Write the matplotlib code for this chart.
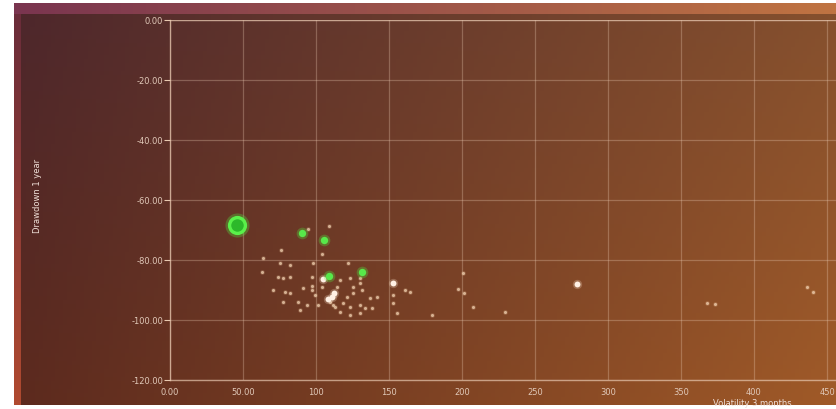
import matplotlib
matplotlib.use('Agg')
import matplotlib.pyplot as plt
import numpy as np

# Data: volatility 3 months (x) vs drawdown 1 year (y)
big_green_x = [46.1]
big_green_y = [-68.3]

green_x = [90.2, 105.5, 109.1, 131.7]
green_y = [-71.1, -73.3, -85.3, -83.9]

white_x = [104.6, 152.9, 278.5, 110.7, 108.5, 112.5]
white_y = [-86.4, -87.8, -88.1, -92.2, -93.0, -91.0]

dot_x = [109.1, 94.7, 75.8, 63.9, 103.9, 75.3, 82.2, 98.1, 122.1, 62.8,
         74.2, 77.6, 82.2, 97.1, 116.4, 123.3, 130.1, 130.1, 97.1, 70.8,
         78.8, 82.2, 91.3, 97.1, 99.3, 103.9, 114.2, 125.5, 125.5, 131.3,
         121.0, 137.0, 141.6, 152.9, 161.0, 164.4, 77.6, 87.9, 93.6, 101.6,
         111.8, 118.7, 123.3, 130.1, 133.6, 138.1, 116.4, 130.1, 123.3, 152.9,
         109.6, 113.0, 89.0, 155.3, 179.2, 200.5, 197.5, 201.6, 207.3, 229.4,
         368.0, 373.3, 440.2, 436.1]
dot_y = [-68.6, -69.7, -76.6, -79.4, -78.1, -81.1, -81.7, -81.1, -81.1, -83.9,
         -85.6, -85.9, -85.6, -85.6, -86.8, -86.1, -86.1, -87.8, -88.6, -90.0,
         -90.6, -91.1, -89.4, -90.0, -91.7, -88.9, -88.9, -88.9, -91.1, -90.0,
         -92.2, -92.8, -92.2, -91.7, -90.0, -90.6, -94.1, -93.9, -95.0, -95.0,
         -95.0, -94.4, -95.6, -95.0, -96.1, -96.1, -97.2, -97.8, -98.3, -94.4,
         -93.9, -95.6, -96.7, -97.8, -98.3, -84.2, -89.8, -90.9, -95.8, -97.2,
         -94.4, -94.7, -90.6, -88.9]

x_ticks = [0, 50, 100, 150, 200, 250, 300, 350, 400, 450]
x_tick_labels = ['0.00', '50.00', '100', '150', '200', '250', '300', '350', '400', '450']
y_ticks = [0, -20, -40, -60, -80, -100, -120]
y_tick_labels = ['0.00', '-20.00', '-40.00', '-60.00', '-80.00', '-100.00', '-120.00']

W, H = 836, 409
fig = plt.figure(figsize=(W / 100, H / 100), dpi=100)
fig.patch.set_facecolor('white')

# Background gradient (bilinear between corner colours)
bg = fig.add_axes([0, 0, 1, 1])
bg.set_xlim(0, W)
bg.set_ylim(H, 0)
bg.axis('off')


def hexrgb(h):
    return np.array([int(h[i:i + 2], 16) for i in (1, 3, 5)]) / 255.0


tl, tr = hexrgb('#4d272c'), hexrgb('#85502e')
bl, br = hexrgb('#5c2a1e'), hexrgb('#a05a28')
u = np.linspace(0, 1, 200)[None, :, None]
v = np.linspace(0, 1, 100)[:, None, None]
grad = (1 - v) * ((1 - u) * tl + u * tr) + v * ((1 - u) * bl + u * br)
bg.imshow(grad, extent=(14, W, 405, 3), aspect='auto', zorder=0)

# top band
tb = (1 - u[0]) * hexrgb('#7a3550') + u[0] * hexrgb('#c07442')
bg.imshow(tb[None, :, :], extent=(14, W, 14, 3), aspect='auto', zorder=1)
# left band
lb = (1 - v[:, 0]) * hexrgb('#6a2c3a') + v[:, 0] * hexrgb('#b04a30')
bg.imshow(lb[:, None, :], extent=(14, 21, 405, 14), aspect='auto', zorder=1)

# Plot axes
ax = fig.add_axes([170 / W, 1 - 380 / H, (W - 170) / W, 360 / H])
ax.patch.set_alpha(0)
ax.set_xlim(0, 666 * 50 / 73)
ax.set_ylim(-120, 0)

grid_col = '#e8c8b0'
ax.set_xticks(x_ticks)
ax.set_xticklabels(x_tick_labels)
ax.set_yticks(y_ticks)
ax.set_yticklabels(y_tick_labels)
ax.grid(True, color=grid_col, alpha=0.32, linewidth=0.9)
ax.axhline(0, color=grid_col, alpha=0.65, linewidth=1.0)
ax.tick_params(axis='x', length=0, pad=6, labelsize=6, labelcolor='#e0c8b8')
ax.tick_params(axis='y', length=4, width=0.8, color=grid_col, pad=1,
               labelsize=6, labelcolor='#e0c8b8')
for s in ['top', 'right']:
    ax.spines[s].set_visible(False)
for s in ['left', 'bottom']:
    ax.spines[s].set_color(grid_col)
    ax.spines[s].set_alpha(0.7)
    ax.spines[s].set_linewidth(1.0)

# small cream dots
ax.scatter(dot_x, dot_y, s=12, color='#f0c8a0', alpha=0.2, linewidths=0, zorder=3)
ax.scatter(dot_x, dot_y, s=5, color='#f0d0b0', alpha=0.75, linewidths=0, zorder=3)
# white larger points
ax.scatter(white_x, white_y, s=45, color='#ffe8d0', alpha=0.25, linewidths=0, zorder=3)
ax.scatter(white_x, white_y, s=18, color='#fff0e4', linewidths=0, zorder=4)
# green points
ax.scatter(green_x, green_y, s=70, color='#50f040', alpha=0.3, linewidths=0, zorder=4)
ax.scatter(green_x, green_y, s=28, color='#58e84a', linewidths=0, zorder=5)
ax.scatter(big_green_x, big_green_y, s=300, color='#50f040', alpha=0.3, linewidths=0, zorder=4)
ax.scatter(big_green_x, big_green_y, s=130, facecolor='#2cb82a', edgecolor='#5af04a',
           linewidths=2.4, zorder=5)

fig.text(37 / W, 1 - 196 / H, 'Drawdown 1 year', rotation=90, ha='center', va='center',
         fontsize=6, color='#f0e0d8')
fig.text(752 / W, 1 - 403 / H, 'Volatility 3 months', ha='center', va='center',
         fontsize=6, color='#f0e0d8')

fig.savefig('out.png', dpi=100)
